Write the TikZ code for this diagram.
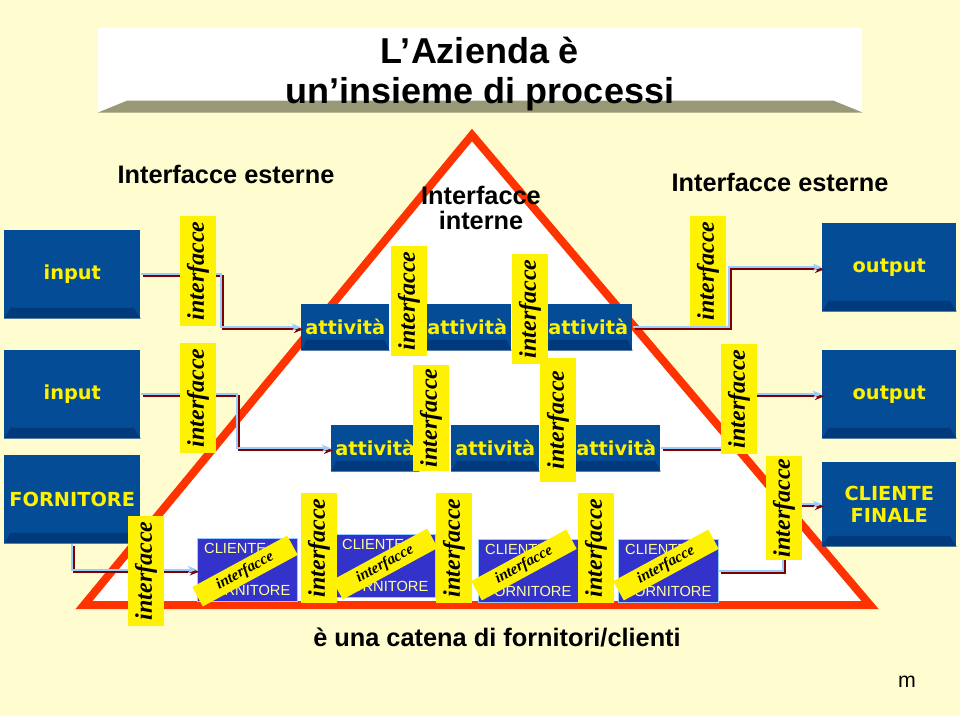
\documentclass[tikz,border=0pt]{standalone}
\usepackage{fontspec}
\setmainfont{Liberation Serif}
\setsansfont{Liberation Sans}
\newfontfamily\boxfont{DejaVu Sans}
\usepackage{xcolor}
\usetikzlibrary{arrows.meta}

\definecolor{cream}{RGB}{255,253,208}
\definecolor{boxblue}{RGB}{4,76,150}
\definecolor{bevelblue}{RGB}{0,58,125}
\definecolor{cfblue}{RGB}{51,51,204}
\definecolor{cftext}{RGB}{255,255,153}
\definecolor{trired}{RGB}{255,51,0}
\definecolor{flowblue}{RGB}{153,204,255}
\definecolor{flowred}{RGB}{128,0,0}
\definecolor{titlebevel}{RGB}{153,153,119}

\tikzset{
  bluebox/.style={fill=boxblue, text=yellow, inner sep=0pt, anchor=north west, align=center,
    font=\boxfont\bfseries\fontsize{14.5}{17}\selectfont},
  bigbox/.style={bluebox, minimum width=102pt, minimum height=66pt},
  actbox/.style={bluebox, minimum width=66pt, minimum height=34.5pt},
  cfbox/.style={fill=cfblue, draw=flowblue, line width=0.4pt, text=cftext, anchor=north west,
    inner sep=0pt, align=left, minimum width=75pt, minimum height=47pt,
    font=\sffamily\fontsize{11}{12}\selectfont},
  intf/.style={fill=yellow, rotate=90, inner sep=0pt, minimum width=83pt, minimum height=27pt,
    font=\rmfamily\bfseries\itshape\fontsize{18}{19}\selectfont},
  intfsmall/.style={fill=yellow, rotate=28.5, inner sep=0pt, minimum width=81pt, minimum height=16.5pt,
    font=\rmfamily\bfseries\itshape\fontsize{11.5}{12}\selectfont},
  heading/.style={font=\sffamily\bfseries\fontsize{19}{19}\selectfont, align=center},
  titletext/.style={font=\sffamily\bfseries\fontsize{27}{30}\selectfont, anchor=base},
  flow/.style={draw=flowblue, line width=1.5pt, -{Stealth[length=7pt,width=5.5pt]},
    preaction={draw=flowred, line width=1.6pt, -{Stealth[length=7pt,width=5.5pt]},
      transform canvas={shift={(1.6pt,-1.6pt)}}}}
}

\begin{document}
\begin{tikzpicture}[x=0.75pt,y=0.75pt,yscale=-1,xscale=1]
% background
\fill[cream] (0,0) rectangle (960,716);
\useasboundingbox (0,0) rectangle (960,716);
% title
\node[fill=white, anchor=north west, inner sep=0pt, minimum width=573pt, minimum height=63pt] (titlebox) at (98,28) {};
\fill[titlebevel] (titlebox.south west) -- (titlebox.south east) -- ([xshift=-22pt,yshift=-9pt]titlebox.south east) -- ([xshift=22pt,yshift=-9pt]titlebox.south west) -- cycle;
\node[titletext] (title1) at (480,64) {L’Azienda è};
\node[titletext] (title2) at (480,104) {un’insieme di processi};
% triangle
\draw[trired, line width=6pt, fill=white] (472,135) -- (870,605) -- (84,605) -- cycle;
% headings
\node[heading] (extleft) at (226,174) {Interfacce esterne};
\node[heading] (extright) at (780,182) {Interfacce esterne};
\node[heading] (internal) at (481,208) {Interfacce\\interne};
% input / output boxes
\node[bigbox] (in1) at (4,230) {input};
\node[bigbox] (in2) at (4,350) {input};
\node[bigbox] (forn) at (4,455) {FORNITORE};
\node[bigbox, minimum width=100.5pt] (out1) at (822,223) {output};
\node[bigbox, minimum width=100.5pt] (out2) at (822,350) {output};
\node[bigbox, minimum width=100.5pt, minimum height=63pt] (fin) at (822,462) {CLIENTE\\FINALE};
% attivita
\node[actbox] (a1) at (301,304) {attività};
\node[actbox] (a2) at (423,304) {attività};
\node[actbox] (a3) at (544,304) {attività};
\node[actbox] (b1) at (331,425) {attività};
\node[actbox] (b2) at (451,425) {attività};
\node[actbox] (b3) at (572,425) {attività};
\foreach \bx/\s in {in1/5,in2/5,forn/5,out1/5,out2/5,fin/5,a1/4,a2/4,a3/4,b1/4,b2/4,b3/4}
  \fill[bevelblue] (\bx.south west) -- (\bx.south east) -- ([xshift=-\s pt,yshift=-8pt]\bx.south east) -- ([xshift=\s pt,yshift=-8pt]\bx.south west) -- cycle;
% clienti / fornitori
\node[cfbox] (cf1) at (197,538) {CLIENTE\\[19pt]FORNITORE};
\node[cfbox] (cf2) at (335,534) {CLIENTE\\[19pt]FORNITORE};
\node[cfbox] (cf3) at (478,539) {CLIENTE\\[19pt]FORNITORE};
\node[cfbox] (cf4) at (618,539) {CLIENTE\\[19pt]FORNITORE};
% flows
\draw[flow] (in1.east) -- ++(80,0) |- (a1.west);
\draw[flow] (in2.east) -- ++(96,0) |- (b1.west);
\draw[flow] (a3.east) -- ++(96,0) |- (out1.west);
\draw[flow] (b3.east) -- ++(80,0) |- (out2.west);
\draw[flow] (forn.south) |- (cf1.west);
\draw[flow] (cf4.east) -- ++(64,0) |- (fin.west);
% interfacce
\node[intf] (l1) at (198,271) {interfacce};
\node[intf] (l2) at (198,398) {interfacce};
\node[intf] (i1) at (409,301) {interfacce};
\node[intf] (i2) at (530,309) {interfacce};
\node[intf, minimum width=79pt] (i3) at (431,418) {interfacce};
\node[intf, minimum width=93pt] (i4) at (558,420) {interfacce};
\node[intf] (r1) at (708,271) {interfacce};
\node[intf] (r2) at (739,399) {interfacce};
\node[intf, minimum width=78pt] (r3) at (784,508) {interfacce};
\node[intf] (k0) at (146,571) {interfacce};
\node[intf] (k1) at (319,548) {interfacce};
\node[intf] (k2) at (454,548) {interfacce};
\node[intf] (k3) at (596,548) {interfacce};
\node[intfsmall] (d1) at (245,571) {interfacce};
\node[intfsmall] (d2) at (385,564) {interfacce};
\node[intfsmall] (d3) at (524,565) {interfacce};
\node[intfsmall] (d4) at (666,565) {interfacce};
% bottom
\node[heading] (chain) at (497,637) {è una catena di fornitori/clienti};
\node[font=\sffamily\fontsize{16}{18}\selectfont] (mark) at (907,682) {m};
\end{tikzpicture}
\end{document}
